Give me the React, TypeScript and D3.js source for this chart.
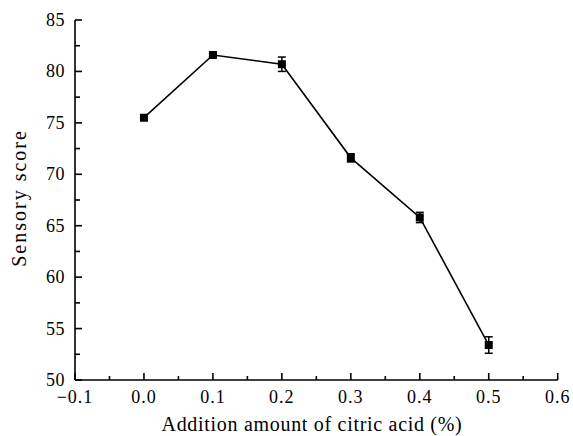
import React from "react";
import * as d3 from "d3";

const doses = [0.0, 0.1, 0.2, 0.3, 0.4, 0.5];
const scores = [75.5, 81.6, 80.7, 71.6, 65.8, 53.4];
const errors = [0.15, 0.15, 0.7, 0.4, 0.5, 0.8];
const xTicks = [-0.1, 0.0, 0.1, 0.2, 0.3, 0.4, 0.5, 0.6];
const yTicks = [50, 55, 60, 65, 70, 75, 80, 85];

const width = 573;
const height = 436;
const margin = { top: 20, right: 15, bottom: 56, left: 75 };

export default function App() {
  const x = d3
    .scaleLinear()
    .domain([-0.1, 0.6])
    .range([margin.left, width - margin.right - 0.3]);
  const y = d3
    .scaleLinear()
    .domain([50, 85])
    .range([height - margin.bottom, margin.top]);

  const line = d3
    .line<number>()
    .x((d, i) => x(doses[i]))
    .y((d) => y(d));

  const font = "'Liberation Serif', 'Times New Roman', serif";
  const x0 = x(-0.1);
  const y0 = y(50);

  // minor ticks halfway between majors
  const xMinor = xTicks.slice(0, -1).map((t) => t + 0.05);
  const yMinor = yTicks.slice(0, -1).map((t) => t + 2.5);

  return (
    <svg width={width} height={height} style={{ position: "absolute", left: 0, top: 0 }}>
      <rect width={width} height={height} fill="#fff" />
      <g stroke="#000" strokeWidth={1.6} fill="none">
        <line x1={x0} x2={x(0.6)} y1={y0} y2={y0} />
        <line x1={x0} x2={x0} y1={y0} y2={y(85)} />
        {xTicks.map((t) => (
          <line key={"xt" + t} x1={x(t)} x2={x(t)} y1={y0} y2={y0 - 7} />
        ))}
        {xMinor.map((t) => (
          <line key={"xm" + t} x1={x(t)} x2={x(t)} y1={y0} y2={y0 - 4} />
        ))}
        {yTicks.map((t) => (
          <line key={"yt" + t} x1={x0} x2={x0 + 7} y1={y(t)} y2={y(t)} />
        ))}
        {yMinor.map((t) => (
          <line key={"ym" + t} x1={x0} x2={x0 + 5} y1={y(t)} y2={y(t)} />
        ))}
      </g>

      <g fontFamily={font} fill="#000">
        {xTicks.map((t) => (
          <text key={"xl" + t} x={x(t)} y={y0 + 23} fontSize={18} textAnchor="middle" letterSpacing={1}>
            {t < 0 ? "\u2212" + Math.abs(t).toFixed(1) : t.toFixed(1)}
          </text>
        ))}
        {yTicks.map((t) => (
          <text key={"yl" + t} x={x0 - 10} y={y(t) + 6} fontSize={18} textAnchor="end" letterSpacing={0.5}>
            {t}
          </text>
        ))}
        <text x={312} y={431} fontSize={20} textAnchor="middle" letterSpacing={0.7}>
          Addition amount of citric acid (%)
        </text>
        <text transform={`translate(26,198) rotate(-90)`} fontSize={20} textAnchor="middle" letterSpacing={2}>
          Sensory score
        </text>
      </g>

      <path d={line(scores) || ""} stroke="#000" strokeWidth={1.6} fill="none" />
      <g stroke="#000" strokeWidth={1.5}>
        {scores.map((s, i) => (
          <g key={"e" + i}>
            <line x1={x(doses[i])} x2={x(doses[i])} y1={y(s - errors[i])} y2={y(s + errors[i])} />
            <line x1={x(doses[i]) - 4} x2={x(doses[i]) + 4} y1={y(s - errors[i])} y2={y(s - errors[i])} />
            <line x1={x(doses[i]) - 4} x2={x(doses[i]) + 4} y1={y(s + errors[i])} y2={y(s + errors[i])} />
          </g>
        ))}
      </g>
      {scores.map((s, i) => (
        <rect key={"m" + i} x={x(doses[i]) - 4} y={y(s) - 4} width={8} height={8} fill="#000" />
      ))}
    </svg>
  );
}
